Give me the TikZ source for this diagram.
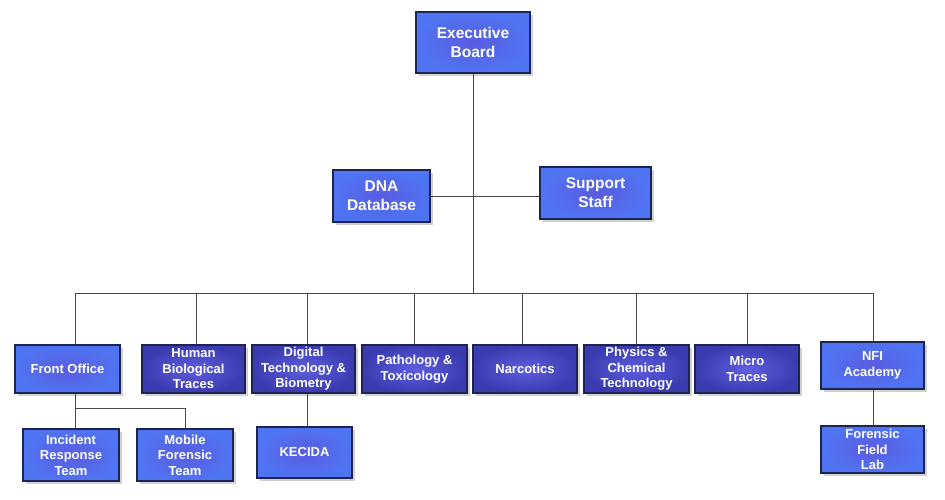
\documentclass[tikz,border=0pt]{standalone}
\usepackage{fontspec}
\setmainfont{Liberation Sans}
\usetikzlibrary{shadows}
\definecolor{lightin}{HTML}{5A5CE0}
\definecolor{lightout}{HTML}{4F74F2}
\definecolor{darkin}{HTML}{5E5EE0}
\definecolor{darkout}{HTML}{3B3BB0}
\definecolor{bord}{HTML}{1E2450}
\definecolor{linec}{HTML}{4A4A4A}
\tikzset{
  base/.style={draw=bord, line width=1.2pt, text=white, align=center, inner sep=1pt,
    font=\fontsize{13}{15.5}\selectfont\bfseries,
    drop shadow={fill=black!30, shadow xshift=3pt, shadow yshift=-3pt, opacity=0.6}},
  lightbox/.style={base, shading=radial, inner color=lightin, outer color=lightout},
  darkbox/.style={base, shading=radial, inner color=darkin, outer color=darkout},
  bigtext/.style={font=\fontsize{15.5}{19}\selectfont\bfseries},
  conn/.style={draw=linec, line width=0.9pt}
}
\begin{document}
\begin{tikzpicture}[x=1pt,y=-1pt]
\useasboundingbox (0,0) rectangle (945,499);
% top
\node[lightbox,bigtext,minimum width=114pt,minimum height=61pt] (exec) at (473,42.5) {Executive\\Board};
\node[lightbox,bigtext,minimum width=97pt,minimum height=52pt] (dna) at (381.5,196) {DNA\\Database};
\node[lightbox,bigtext,minimum width=111pt,minimum height=52pt] (supp) at (595.5,193) {Support\\Staff};
% bottom row
\node[lightbox,minimum width=105pt,minimum height=48pt] (front) at (67.5,369) {Front Office};
\node[darkbox,minimum width=103pt,minimum height=48pt] (human) at (193.5,369) {Human\\Biological\\Traces};
\node[darkbox,minimum width=103pt,minimum height=48pt] (digi) at (303.5,369) {Digital\\Technology \&\\Biometry};
\node[darkbox,minimum width=105pt,minimum height=48pt] (path) at (414.5,369) {Pathology \&\\Toxicology};
\node[darkbox,minimum width=104pt,minimum height=48pt] (narc) at (525,369) {Narcotics};
\node[darkbox,minimum width=105pt,minimum height=48pt] (phys) at (636.5,369) {Physics \&\\Chemical\\Technology};
\node[darkbox,minimum width=104pt,minimum height=48pt] (micro) at (747,369) {Micro\\Traces};
\node[lightbox,minimum width=103pt,minimum height=47pt] (nfi) at (872.5,365.5) {NFI\\Academy};
% third level
\node[lightbox,minimum width=96pt,minimum height=52pt] (inc) at (71,455) {Incident\\Response\\Team};
\node[lightbox,minimum width=96pt,minimum height=52pt] (mob) at (185,455) {Mobile\\Forensic\\Team};
\node[lightbox,minimum width=95pt,minimum height=51pt] (kec) at (304.5,452.5) {KECIDA};
\node[lightbox,minimum width=103pt,minimum height=47pt] (ffl) at (872.5,449.5) {Forensic\\Field\\Lab};
% coordinates
\coordinate (bus) at (473,293);
\coordinate (busL) at (75,293);
\coordinate (busR) at (873,293);
\coordinate (fo) at (75,408);
\coordinate (fm) at (185,408);
% connectors
\draw[conn] (exec.south) -- (bus);
\draw[conn] (dna.east) -- (supp.west |- dna.east);
\draw[conn] (busL) -- (busR);
\draw[conn] (busL) -- (front.north -| busL);
\draw[conn] (196,293) -- (human.north -| 196,0);
\draw[conn] (307,293) -- (digi.north -| 307,0);
\draw[conn] (414,293) -- (path.north -| 414,0);
\draw[conn] (522,293) -- (narc.north -| 522,0);
\draw[conn] (636,293) -- (phys.north -| 636,0);
\draw[conn] (747,293) -- (micro.north -| 747,0);
\draw[conn] (busR) -- (nfi.north -| busR);
\draw[conn] (front.south -| fo) -- (inc.north -| fo);
\draw[conn] (fo) -- (fm) -- (mob.north -| fm);
\draw[conn] (digi.south -| 307,0) -- (kec.north -| 307,0);
\draw[conn] (nfi.south -| busR) -- (ffl.north -| busR);
\end{tikzpicture}
\end{document}
